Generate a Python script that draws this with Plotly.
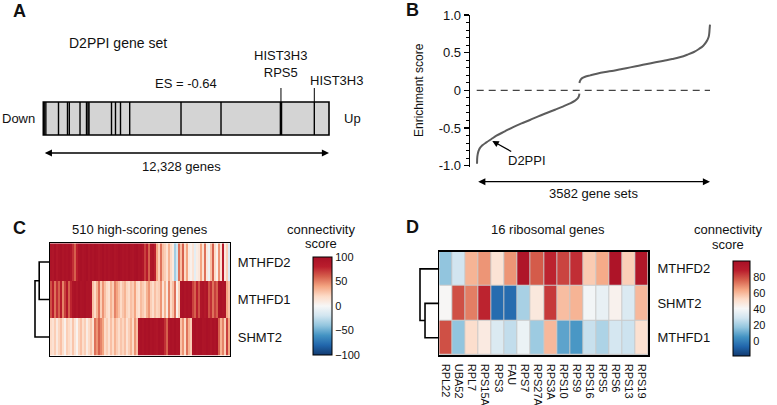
import plotly.graph_objects as go

W, H = 777, 405
FONT = "Liberation Sans, Arial, Helvetica, sans-serif"
INK = "#111111"


def px(x):
    return x / W


def py(y):
    return 1 - y / H


# ---------------- Panel A data ----------------
N_GENES = 12328
gene_ranks = [40, 110, 656, 1044, 1122, 1584, 1864, 1929, 1972, 2943, 3115,
              3331, 3728, 5942, 7668, 10230, 10280, 11694]
labeled_ranks = [10255, 11694]
labeled_text = ["HIST3H3<br>RPS5", "HIST3H3"]
es_value = -0.64

# ---------------- Panel B data ----------------
N_SETS = 3582
lower_idx = [6, 11, 27, 47, 88, 150, 227, 304, 433, 561, 689, 818, 946, 1075,
             1203, 1332, 1434, 1511, 1547, 1568, 1578]
lower_es = [-0.973, -0.876, -0.810, -0.770, -0.730, -0.690, -0.646, -0.602,
            -0.544, -0.487, -0.438, -0.394, -0.345, -0.301, -0.257, -0.212,
            -0.173, -0.137, -0.111, -0.080, -0.044]
upper_idx = [1578, 1588, 1614, 1665, 1743, 1845, 1974, 2102, 2231, 2359, 2488,
             2616, 2745, 2873, 3001, 3130, 3233, 3335, 3412, 3479, 3530, 3561,
             3571, 3577, 3582]
upper_es = [0.097, 0.128, 0.159, 0.181, 0.199, 0.221, 0.243, 0.261, 0.283,
            0.305, 0.327, 0.350, 0.372, 0.394, 0.416, 0.442, 0.473, 0.509,
            0.549, 0.593, 0.650, 0.708, 0.761, 0.827, 0.872]
d2ppi_idx = 227
d2ppi_es = -0.665

# ---------------- Panel C data ----------------
N_HIGH = 510
c_rows = ["MTHFD2", "MTHFD1", "SHMT2"]
c_mthfd2 = [95, 92, 98, 90, 96, 99, 93, 97, 94, 98, 92,
            75, 60, 80,
            96, 99, 94, 97, 100, 93, 98, 95, 99, 97, 92, 96, 100, 94, 98, 95,
            97, 99, 93, 96, 100, 98, 94, 97, 95, 99, 96, 93, 98, 100, 95, 97, 92,
            70, 85, 60, 92, 95, 80,
            40, 25, 55, 30,
            25, 15, 35, 20, 10,
            -35, -20,
            55, 30, 60, 20, 40,
            10, 5, 15, -10, 8, 12,
            40, 15, 55, 10, -5, 30, 60, 20, 5, 45, 15, 85, 10, 25, -15]
c_mthfd1 = [65, 80, 55, 75, 60, 85, 50, 70, 90, 60, 78,
            95, 97, 92, 99, 94, 96, 98, 93, 95, 90,
            30, 20, 35, 55, 25, 45, 30, 20, 15, 35, 25, 50, 40, 30, 20, 28, 35,
            22, 18, 30, 25, 40, 20, 15, 32, 26, 20, 35, 45, 25, 18, 30, 22,
            25, 45, 15, 35, 10, 50, 20, 30, 55, 5, 25,
            96, 98, 93, 97, 95, 99,
            70, 60, 80, 65,
            92, 95, 88, 94,
            65, 75, 55, 70, 60,
            95, 97, 93, 96,
            40, 30]
c_shmt2 = [20, 15, 25, 10, 22, 30, 18, 5, 25, 20, 12, 28, 15, 3, 22, 30, 18,
           25, 8, 20, 28, 15,
           55, 45, 60, 50, 40,
           20, 25, 15, 30, 20, 35, 25, 18, 28, 22, 30, 15, 25, 35, 20, 45, 30,
           95, 97, 93, 98, 96, 99, 94, 97, 95, 92, 98, 96, 94, 75, 60, 93, 97,
           95, 99, 94, 96,
           30, 45, 20, 55, 35, 25,
           96, 98, 94, 97, 99, 93, 95, 98, 96, 92, 97, 95, 99,
           60, 35, 50, 25, 70, 40]
c_merge_heights = [0.72, 1.0]
c_ticks = [-100, -50, 0, 50, 100]

# ---------------- Panel D data ----------------
d_genes = ["RPL22", "UBA52", "RPL7", "RPS15A", "RPS3", "FAU", "RPS7", "RPS27A",
           "RPS3A", "RPS10", "RPS9", "RPS16", "RPS5", "RPS6", "RPS13", "RPS19"]
d_rows = ["MTHFD2", "SHMT2", "MTHFD1"]
d_mthfd2 = [18, 30, 62, 68, 50, 68, 96, 78, 88, 82, 86, 57, 64, 97, 56, 95]
d_shmt2 = [42, 80, 72, 88, -4, -4, 22, 48, 84, 60, 62, 40, 37, 44, 33, 61]
d_mthfd1 = [80, 18, 52, 47, 33, 27, 38, 20, 61, 10, 7, 28, 23, 31, 29, 51]
d_merge_heights = [0.74, 1.0]
d_ticks = [0, 20, 40, 60, 80]

cscale = [[0.0, "rgb(18,58,112)"], [0.1, "rgb(33,102,172)"],
          [0.2, "rgb(67,147,195)"], [0.3, "rgb(146,197,222)"],
          [0.4, "rgb(209,229,240)"], [0.5, "rgb(247,247,247)"],
          [0.6, "rgb(253,219,199)"], [0.7, "rgb(244,165,130)"],
          [0.8, "rgb(214,96,77)"], [0.9, "rgb(186,30,45)"],
          [1.0, "rgb(168,16,38)"]]

fig = go.Figure()

# ---------- Panel A ----------
gx, gy = [], []
for r in gene_ranks:
    gx += [r, r, None]
    gy += [0, 1, None]
fig.add_trace(go.Scatter(x=gx, y=gy, mode="lines", line=dict(color="black", width=1.4),
                         xaxis="x", yaxis="y", hoverinfo="skip", showlegend=False))
lx, ly = [], []
for r in labeled_ranks:
    lx += [r, r, None]
    ly += [1, 1.424, None]
fig.add_trace(go.Scatter(x=lx, y=ly, mode="lines", line=dict(color="black", width=1),
                         xaxis="x", yaxis="y", hoverinfo="skip", showlegend=False))

# ---------- Panel B ----------
fig.add_trace(go.Scatter(x=[1, N_SETS], y=[0, 0], mode="lines",
                         line=dict(color="#444444", width=1.4, dash="7px,5px"),
                         xaxis="x2", yaxis="y2", hoverinfo="skip", showlegend=False))
for xs, ys in [(lower_idx, lower_es), (upper_idx, upper_es)]:
    fig.add_trace(go.Scatter(x=xs, y=ys, mode="lines",
                             line=dict(color="#5c5c5c", width=2, shape="spline"),
                             xaxis="x2", yaxis="y2", hoverinfo="skip", showlegend=False))

# ---------- Panel C ----------
fig.add_trace(go.Heatmap(z=[c_mthfd2, c_mthfd1, c_shmt2], y=[0, 1, 2],
                         colorscale=cscale, zmin=-100, zmax=100,
                         xaxis="x3", yaxis="y3",
                         colorbar=dict(x=px(313), xanchor="left", xpad=0,
                                       y=py(256.7), yanchor="top", ypad=0,
                                       thickness=19, thicknessmode="pixels",
                                       len=97.6, lenmode="pixels",
                                       outlinewidth=1, outlinecolor="black",
                                       tickvals=c_ticks, ticks="", ticklen=0,
                                       tickfont=dict(size=11, color=INK, family=FONT))))
h1, h2 = c_merge_heights
fig.add_trace(go.Scatter(x=[0, h1, h1, 0, None, h1, h2, h2, 0],
                         y=[0, 0, 1, 1, None, 0.5, 0.5, 2, 2],
                         mode="lines", line=dict(color="black", width=1.6),
                         xaxis="x4", yaxis="y4", hoverinfo="skip", showlegend=False))

# ---------- Panel D ----------
fig.add_trace(go.Heatmap(z=[d_mthfd2, d_shmt2, d_mthfd1], x=d_genes, y=[0, 1, 2],
                         colorscale=cscale, zmin=-17.5, zmax=100.7,
                         xgap=1, ygap=1,
                         xaxis="x5", yaxis="y5",
                         colorbar=dict(x=px(733.3), xanchor="left", xpad=0,
                                       y=py(260.7), yanchor="top", ypad=0,
                                       thickness=16.7, thicknessmode="pixels",
                                       len=95, lenmode="pixels",
                                       outlinewidth=1, outlinecolor="black",
                                       tickvals=d_ticks, ticks="", ticklen=0,
                                       tickfont=dict(size=11, color=INK, family=FONT))))
k1, k2 = d_merge_heights
fig.add_trace(go.Scatter(x=[0, k1, k1, 0, None, 0, k2, k2, k1],
                         y=[1, 1, 2, 2, None, 0, 0, 1.5, 1.5],
                         mode="lines", line=dict(color="black", width=1.6),
                         xaxis="x6", yaxis="y6", hoverinfo="skip", showlegend=False))


def dom_x(a, b):
    return [px(a), px(b)]


def dom_y(top, bottom):
    return [py(bottom), py(top)]


hidden = dict(visible=False, showgrid=False, zeroline=False, fixedrange=True)

shapes = [
    dict(type="rect", xref="x", yref="y", x0=0, x1=N_GENES, y0=0, y1=1,
         fillcolor="#d4d4d4", line=dict(color="black", width=1.6), layer="below"),
    dict(type="rect", xref="x5 domain", yref="y5 domain", x0=0, x1=1, y0=0, y1=1,
         fillcolor="#c9c9c9", line=dict(width=0), layer="below"),
]


def txt(text, x, y, size=13, bold=False, xanchor="center", angle=0):
    t = f"<b>{text}</b>" if bold else text
    return dict(text=t, x=px(x), y=py(y), xref="paper", yref="paper",
                xanchor=xanchor, yanchor="middle", showarrow=False, textangle=angle,
                font=dict(size=size, color=INK, family=FONT))


annotations = [
    txt("A", 19, 11, 18, True), txt("B", 412, 10, 18, True),
    txt("C", 19, 227.5, 18, True), txt("D", 412, 227, 18, True),
    txt("D2PPI gene set", 67, 43, 14, xanchor="left"),
    txt(f"ES = {es_value:.2f}", 186, 84),
    txt("Down", 0, 118, xanchor="left"), txt("Up", 352, 118),
    txt(f"{N_GENES:,} genes", 181, 166),
    txt("Enrichment score", 419, 90, 12, angle=-90),
    txt(f"{N_SETS} gene sets", 593, 193),
    txt(f"{N_HIGH} high-scoring genes", 140, 229.3),
    txt("connectivity", 321, 229), txt("score", 321, 243.5),
    txt(f"{len(d_genes)} ribosomal genes", 548, 229.3),
    txt("connectivity", 728, 229), txt("score", 728, 244),
]
annotations.append(dict(text=labeled_text[0], x=labeled_ranks[0], y=py(64.5), xref="x",
                        yref="paper", xanchor="center", yanchor="middle", showarrow=False,
                        font=dict(size=13, color=INK, family=FONT)))
annotations.append(dict(text=labeled_text[1], x=labeled_ranks[1], y=py(80), xref="x",
                        yref="paper", xanchor="center", xshift=22, yanchor="middle",
                        showarrow=False, font=dict(size=13, color=INK, family=FONT)))
annotations.append(dict(x=N_GENES, y=-0.545, xref="x", yref="y", ax=0, ay=-0.545,
                        axref="x", ayref="y", text="", showarrow=True,
                        arrowside="end+start", arrowhead=2, arrowsize=1.1,
                        arrowwidth=1.3, arrowcolor="black"))
annotations.append(dict(x=N_SETS, y=py(181.7), xref="x2", yref="paper", ax=1, ay=0,
                        axref="x2", ayref="pixel", text="", showarrow=True,
                        arrowside="end+start", arrowhead=2, arrowsize=1.1,
                        arrowwidth=1.3, arrowcolor="black"))
annotations.append(dict(x=d2ppi_idx, y=d2ppi_es, xref="x2", yref="y2", ax=36, ay=20,
                        text="D2PPI", showarrow=True, arrowhead=2, arrowsize=1,
                        arrowwidth=1.3, arrowcolor="black", standoff=1,
                        font=dict(size=13, color=INK, family=FONT)))

px_per_rank = (329 - 43.3) / N_GENES
idx_per_px = (N_SETS - 1) / (710 - 476.7)

frame = dict(showline=True, mirror=True, linecolor="black", showgrid=False,
             zeroline=False, fixedrange=True)

fig.update_layout(
    width=W, height=H, margin=dict(l=0, r=0, t=0, b=0),
    template="none", paper_bgcolor="white", plot_bgcolor="rgba(0,0,0,0)",
    showlegend=False, font=dict(family=FONT, color=INK),
    shapes=shapes, annotations=annotations,
    xaxis=dict(domain=dom_x(38, 334), range=[-(43.3 - 38) / px_per_rank,
                                            N_GENES + 5 / px_per_rank], anchor="y", **hidden),
    yaxis=dict(domain=dom_y(40, 175), range=[-1.212, 2.879], anchor="x", **hidden),
    xaxis2=dict(domain=dom_x(470, 712), range=[1 - 6.7 * idx_per_px, N_SETS + 2 * idx_per_px],
                anchor="y2", **hidden),
    yaxis2=dict(domain=dom_y(15, 166.7), range=[-1.0133, 1.0], anchor="x2",
                showline=True, linecolor="black", linewidth=1.3, showgrid=False,
                zeroline=False, ticks="outside", ticklen=5, tickwidth=1.2,
                tickcolor="black", tickvals=[-1, -0.5, 0, 0.5, 1],
                ticktext=["-1.0", "-0.5", "0", "0.5", "1.0"],
                tickfont=dict(size=13, color=INK, family=FONT),
                minor=dict(dtick=0.1, ticklen=3, ticks="outside", tickwidth=1,
                           tickcolor="black", showgrid=False), fixedrange=True),
    xaxis3=dict(domain=dom_x(50, 230), anchor="y3", showticklabels=False, ticks="",
                range=[-0.5, len(c_mthfd2) - 0.5], linewidth=1.2, **frame),
    yaxis3=dict(domain=dom_y(243.3, 355.7), anchor="x3", range=[2.5, -0.5], side="right",
                tickvals=[0, 1, 2], ticktext=c_rows, ticks="outside", ticklen=4,
                tickcolor="rgba(0,0,0,0)", linewidth=1.2,
                tickfont=dict(size=13, color=INK, family=FONT), **frame),
    xaxis4=dict(domain=dom_x(33, 50), range=[17 / 15, 0], anchor="y4", **hidden),
    yaxis4=dict(domain=dom_y(243.3, 355.7), range=[2.5, -0.5], anchor="x4", **hidden),
    xaxis5=dict(domain=dom_x(439.3, 648.3), anchor="y5", type="category", tickangle=90,
                ticks="outside", ticklen=5, tickcolor="rgba(0,0,0,0)", linewidth=1.5,
                tickfont=dict(size=11, color=INK, family=FONT), **frame),
    yaxis5=dict(domain=dom_y(251.7, 355), anchor="x5", range=[2.5, -0.5], side="right",
                tickvals=[0, 1, 2], ticktext=d_rows, ticks="outside", ticklen=5,
                tickcolor="rgba(0,0,0,0)", linewidth=1.5,
                tickfont=dict(size=13, color=INK, family=FONT), **frame),
    xaxis6=dict(domain=dom_x(418, 439.3), range=[21.3 / 19.3, 0], anchor="y6", **hidden),
    yaxis6=dict(domain=dom_y(251.7, 355), range=[2.5, -0.5], anchor="x6", **hidden),
)

fig.write_html("out.html", config={"displayModeBar": False, "staticPlot": True},
               post_script="document.body.style.margin='0';")
